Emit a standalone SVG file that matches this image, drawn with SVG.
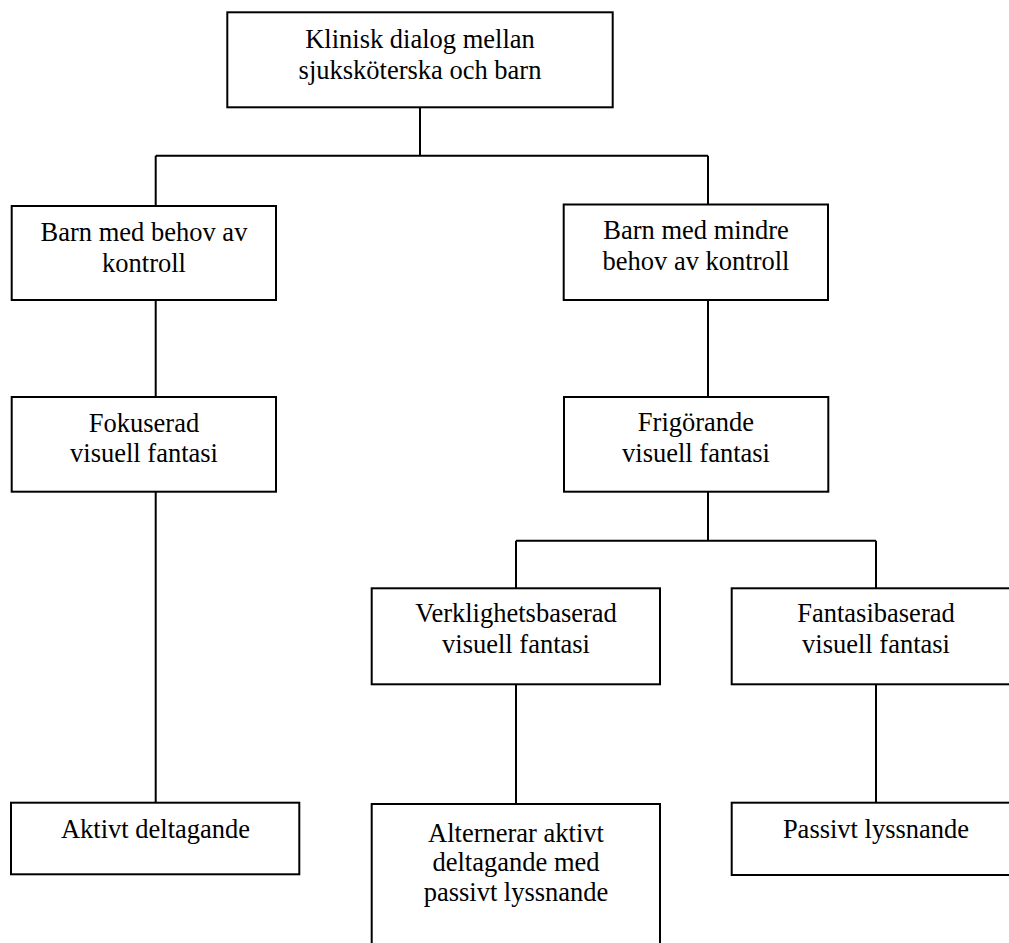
<svg xmlns="http://www.w3.org/2000/svg" width="1009" height="943" viewBox="0 0 1009 943">
<style>
.box{fill:#fff;stroke:#000;stroke-width:2}
.ln{stroke:#000;stroke-width:2;fill:none}
text{font-family:"Liberation Serif","Times New Roman",serif;font-size:26.5px;fill:#000;text-anchor:middle}
</style>
<rect width="1009" height="943" fill="#fff"/>
<g id="connectors">
<path class="ln" d="M420,107.3V155.7M155.7,155.7H708M155.7,155.7V206M708,155.7V204.5M155.7,300V397M708,300V397M155.7,491.7V802.7M708,491.7V540.7M516,540.7H876M516,540.7V588.3M876,540.7V588.3M516,684.3V804M876,684.3V802.7"/>
</g>
<g id="root">
<rect class="box" x="227.3" y="12.3" width="385.4" height="95"/>
<text x="420" y="48.3">Klinisk dialog mellan</text>
<text x="420" y="79">sjuksköterska och barn</text>
</g>
<g id="behov">
<rect class="box" x="11.7" y="206" width="264.3" height="94"/>
<text x="144" y="240.7">Barn med behov av</text>
<text x="144" y="271.7">kontroll</text>
</g>
<g id="mindre">
<rect class="box" x="563.7" y="204.5" width="264.3" height="95.5"/>
<text x="696" y="239.3">Barn med mindre</text>
<text x="696" y="270">behov av kontroll</text>
</g>
<g id="fokuserad">
<rect class="box" x="11.7" y="397" width="264.3" height="94.7"/>
<text x="144" y="431.7">Fokuserad</text>
<text x="144" y="462.3">visuell fantasi</text>
</g>
<g id="frigorande">
<rect class="box" x="564" y="397" width="264.3" height="94.7"/>
<text x="696" y="431.2">Frigörande</text>
<text x="696" y="461.7">visuell fantasi</text>
</g>
<g id="verklighet">
<rect class="box" x="371.7" y="588.3" width="288.3" height="96"/>
<text x="516" y="621.7">Verklighetsbaserad</text>
<text x="516" y="652.7">visuell fantasi</text>
</g>
<g id="fantasibaserad">
<rect class="box" x="731.7" y="588.3" width="290" height="96"/>
<text x="876" y="621.7">Fantasibaserad</text>
<text x="876" y="652.7">visuell fantasi</text>
</g>
<g id="aktivt">
<rect class="box" x="11" y="802.7" width="288.3" height="71.6"/>
<text x="155.5" y="838.3">Aktivt deltagande</text>
</g>
<g id="alternerar">
<rect class="box" x="371.7" y="804" width="288.3" height="150"/>
<text x="516" y="841.7">Alternerar aktivt</text>
<text x="516" y="871.2">deltagande med</text>
<text x="516" y="900.5">passivt lyssnande</text>
</g>
<g id="passivt">
<rect class="box" x="731.7" y="802.7" width="290" height="72.3"/>
<text x="876" y="838.3">Passivt lyssnande</text>
</g>
</svg>
